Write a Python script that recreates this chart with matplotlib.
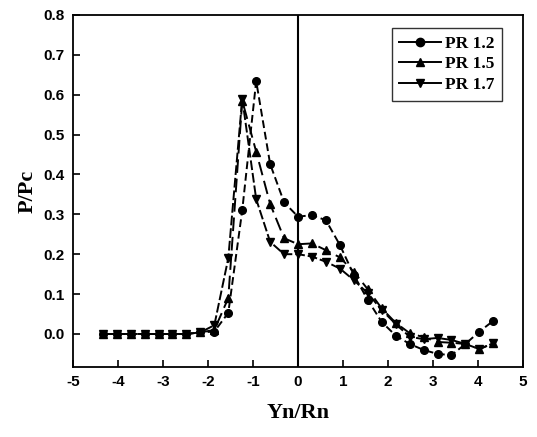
import numpy as np
import matplotlib
matplotlib.use('Agg')
import matplotlib.pyplot as plt

plt.rcParams['axes.unicode_minus'] = False

# points spaced ~0.31 in Yn/Rn
x = [-4.34, -4.03, -3.72, -3.41, -3.10, -2.79, -2.48, -2.17, -1.86, -1.55, -1.24, -0.93,
     -0.62, -0.31, 0.0, 0.31, 0.62, 0.93, 1.24, 1.55, 1.86, 2.17, 2.48, 2.79, 3.10, 3.41,
     3.72, 4.03, 4.34]

pr12 = [0.0, 0.0, 0.0, 0.0, 0.0, 0.0, 0.0, 0.004, 0.006, 0.053, 0.31, 0.634,
        0.426, 0.33, 0.294, 0.298, 0.285, 0.223, 0.148, 0.085, 0.03, -0.004, -0.025, -0.04,
        -0.05, -0.053, -0.025, 0.006, 0.033]
pr15 = [0.0, 0.0, 0.0, 0.0, 0.0, 0.0, 0.0, 0.004, 0.01, 0.09, 0.585, 0.457,
        0.326, 0.24, 0.225, 0.227, 0.21, 0.192, 0.156, 0.112, 0.064, 0.028, 0.002, -0.008,
        -0.02, -0.022, -0.025, -0.038, -0.023]
pr17 = [0.0, 0.0, 0.0, 0.0, 0.0, 0.0, 0.0, 0.004, 0.022, 0.19, 0.59, 0.338,
        0.231, 0.2, 0.2, 0.194, 0.181, 0.164, 0.135, 0.102, 0.06, 0.025, -0.007, -0.013,
        -0.01, -0.015, -0.025, -0.038, -0.023]

labels = ['PR 1.2', 'PR 1.5', 'PR 1.7']
markers = ['o', '^', 'v']
dashes = [(4, 2), (7, 3), (5, 1.5)]

xticks = [-5, -4, -3, -2, -1, 0, 1, 2, 3, 4, 5]
yticks = [0.0, 0.1, 0.2, 0.3, 0.4, 0.5, 0.6, 0.7, 0.8]

fig = plt.figure(figsize=(5.37, 4.37), dpi=100)
ax = fig.add_axes([0.136, 0.160, 0.838, 0.806])

handles = []
for y, lab, m, d in zip([pr12, pr15, pr17], labels, markers, dashes):
    ax.plot(x, y, color='black', lw=1.4, dashes=d)
    ax.plot(x, y, color='black', ls='none', marker=m, ms=5.5)
    h, = ax.plot([], [], color='black', lw=1.4, marker=m, ms=6, label=lab)
    handles.append(h)

ax.axvline(0, color='black', lw=1.5)

ax.set_xlim(-5, 5)
ax.set_ylim(-0.083, 0.8)
ax.set_xticks(xticks)
ax.set_xticklabels([str(v) for v in xticks])
ax.set_yticks(yticks)
ax.set_yticklabels(['%.1f' % v for v in yticks])
ax.tick_params(direction='in', length=5, width=1.2, labelsize=11, pad=6)
for t in ax.get_xticklabels() + ax.get_yticklabels():
    t.set_fontweight('bold')
    t.set_family('Liberation Sans')
for s in ax.spines.values():
    s.set_linewidth(1.3)

ax.set_xlabel('Yn/Rn', fontsize=16, fontweight='bold', family='Liberation Serif', labelpad=10)
ax.set_ylabel('P/Pc', fontsize=16, fontweight='bold', family='Liberation Serif', labelpad=4)

leg = ax.legend(handles=handles, loc='upper right', bbox_to_anchor=(0.953, 0.963),
                borderaxespad=0,
                prop={'family': 'Liberation Serif', 'weight': 'bold', 'size': 12.5},
                frameon=True, fancybox=False, edgecolor='black', handlelength=2.4,
                handletextpad=0.2, borderpad=0.45, labelspacing=0.25)
leg.get_frame().set_linewidth(1.0)

fig.savefig('out.png', dpi=100)
